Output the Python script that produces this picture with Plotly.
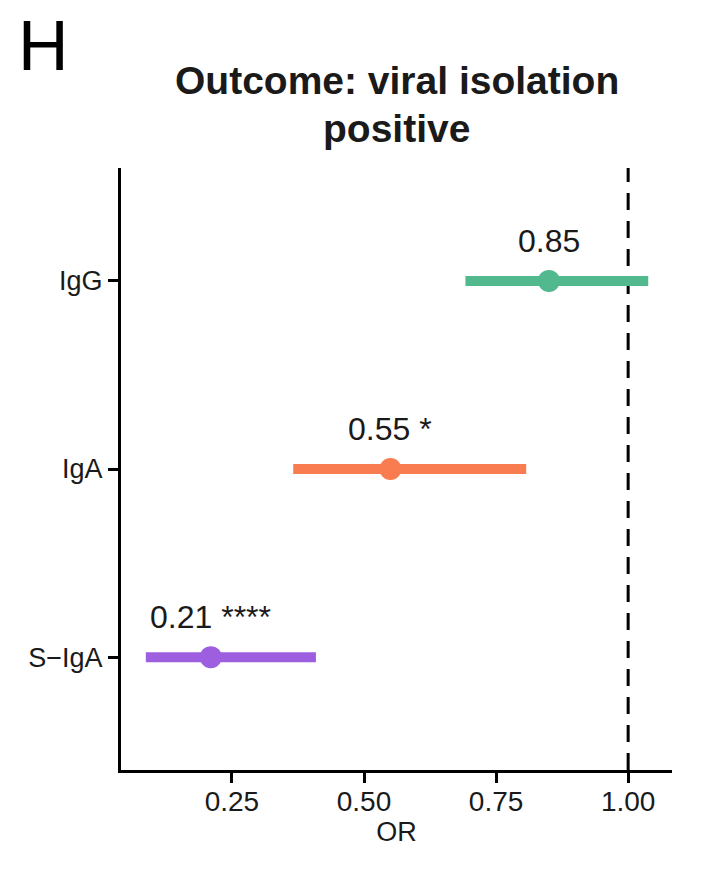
import plotly.graph_objects as go

categories = ["S−IgA", "IgA", "IgG"]
odds_ratio = [0.21, 0.55, 0.85]
ci_low = [0.087, 0.366, 0.692]
ci_high = [0.409, 0.807, 1.038]
stars = ["****", "*", ""]
colors = ["#9d5fe0", "#f97b50", "#52b98f"]
x_ticks = [0.25, 0.50, 0.75, 1.00]
x_tick_labels = ["0.25", "0.50", "0.75", "1.00"]
reference_or = 1.0

FONT = "Liberation Sans, Arial, sans-serif"
fig = go.Figure()

for i, cat in enumerate(categories):
    fig.add_trace(go.Scatter(
        x=[ci_low[i], ci_high[i]], y=[i + 1, i + 1], mode="lines",
        line=dict(color=colors[i], width=10), showlegend=False, hoverinfo="skip"))
    fig.add_trace(go.Scatter(
        x=[odds_ratio[i]], y=[i + 1], mode="markers",
        marker=dict(color=colors[i], size=22, line=dict(width=0)), showlegend=False))
    label = f"{odds_ratio[i]:.2f}" + (f" {stars[i]}" if stars[i] else "")
    fig.add_annotation(x=odds_ratio[i], y=i + 1, text=label, showarrow=False,
                       yshift=40, xanchor="center", yanchor="middle",
                       font=dict(family=FONT, size=32, color="#1a1a1a"))

fig.add_shape(type="line", xref="x", yref="paper", x0=reference_or, x1=reference_or,
              y0=0, y1=1, line=dict(color="black", width=3, dash="17px,11px"), layer="below")

fig.add_annotation(xref="paper", yref="paper", x=0.5, y=1, yshift=88,
                   text="<b>Outcome: viral isolation</b>", showarrow=False,
                   xanchor="center", yanchor="middle",
                   font=dict(family=FONT, size=39, color="#1a1a1a"))
fig.add_annotation(xref="paper", yref="paper", x=0.5, y=1, yshift=40,
                   text="<b>positive</b>", showarrow=False,
                   xanchor="center", yanchor="middle",
                   font=dict(family=FONT, size=39, color="#1a1a1a"))
fig.add_annotation(xref="paper", yref="paper", x=0, y=1, xshift=-105, yshift=122,
                   text="H", showarrow=False, xanchor="left", yanchor="middle",
                   font=dict(family=FONT, size=70, color="black"))

fig.update_layout(
    width=712, height=886,
    margin=dict(l=113, r=48, t=160, b=124),
    plot_bgcolor="white", paper_bgcolor="white",
    font=dict(family=FONT, color="#1a1a1a"),
    xaxis=dict(range=[0.04, 1.083], tickvals=x_ticks, ticktext=x_tick_labels,
               showline=True, linecolor="black", linewidth=3, ticks="outside",
               ticklen=10, tickwidth=3, tickcolor="black", showgrid=False, zeroline=False,
               tickfont=dict(size=28, color="#1a1a1a"), ticklabelstandoff=-6,
               title=dict(text="OR", font=dict(size=27, color="#1a1a1a"), standoff=2)),
    yaxis=dict(range=[0.4, 3.6], tickvals=[1, 2, 3], ticktext=categories,
               showline=True, linecolor="black", linewidth=3, ticks="outside",
               ticklen=10, tickwidth=3, tickcolor="black", showgrid=False, zeroline=False,
               tickfont=dict(size=27, color="#1a1a1a")),
)

fig.write_html("out.html")
